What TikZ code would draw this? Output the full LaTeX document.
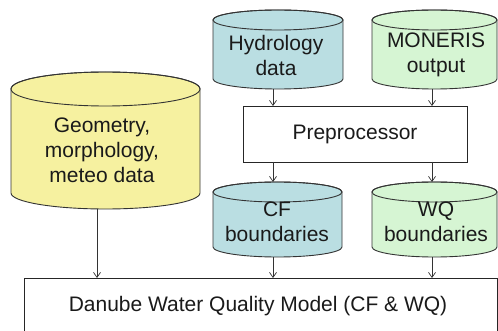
\documentclass[tikz,border=0pt]{standalone}
\usepackage{fontspec}
\setmainfont{Liberation Sans}
\usetikzlibrary{arrows.meta}
\definecolor{cylyellow}{HTML}{F6F1A0}
\definecolor{cylteal}{HTML}{BADEE2}
\definecolor{cylgreen}{HTML}{D6F5D3}
\definecolor{edge}{HTML}{333333}
\definecolor{txt}{HTML}{1A1A1A}
% #1 left x, #2 right x, #3 top-ellipse centre y, #4 bottom-ellipse centre y, #5 top ry, #6 bottom ry, #7 fill
\newcommand\mycyl[7]{%
  \pgfmathsetmacro\rx{(#2-#1)/2}%
  \pgfmathsetmacro\cx{(#2+#1)/2}%
  \filldraw[cylline,fill=#7] (#1,#3) -- (#1,#4)
    arc[start angle=180,end angle=0,x radius=\rx,y radius=#6] -- (#2,#3)
    arc[start angle=0,end angle=-180,x radius=\rx,y radius=#5] -- cycle;
  \draw[cylline] (\cx,#3) ellipse[x radius=\rx,y radius=#5];
}
\begin{document}
\begin{tikzpicture}[x=1pt,y=-1pt,
  cylline/.style={draw=edge,line width=0.9pt},
  boxline/.style={draw=black!85,line width=0.9pt,fill=white},
  lbl/.style={text=txt,align=center,font=\fontsize{21}{25}\selectfont,inner sep=0pt},
  flow/.style={draw=black!80,line width=0.7pt,-{Straight Barb[length=5pt,width=7pt]}}]
\useasboundingbox (0,0) rectangle (498,331);
% bottom box
\draw[boxline] (24,345) -- (24,278) -- (497,278) -- (497,345);
\node[lbl] (model) at (258,306) {Danube Water Quality Model (CF \& WQ)};
% preprocessor
\draw[boxline] (243,106) rectangle (467,162);
\node[lbl] (pre) at (355,134) {Preprocessor};
% cylinders
\mycyl{11}{200}{89}{193}{17}{16}{cylyellow}
\node[lbl] (geo) at (102,150) {Geometry,\\morphology,\\meteo data};
\mycyl{213}{343}{20}{79}{10}{10}{cylteal}
\node[lbl] (hyd) at (276,55) {Hydrology\\data};
\mycyl{372}{497}{20}{79}{10}{10}{cylgreen}
\node[lbl] (mon) at (436,55) {MONERIS\\output};
\mycyl{213}{342}{192}{247}{10}{10}{cylteal}
\node[lbl] (cf) at (277,222) {CF\\boundaries};
\mycyl{372}{497}{192}{247}{10}{10}{cylgreen}
\node[lbl] (wq) at (436,222) {WQ\\boundaries};
% connector end points
\coordinate (geoB) at (97,209);
\coordinate (modA) at (97,278);
\coordinate (hydB) at (273,89);
\coordinate (preA) at (273,106);
\coordinate (monB) at (432,89);
\coordinate (preB) at (432,106);
\coordinate (preC) at (273,162);
\coordinate (cfT) at (273,182);
\coordinate (preD) at (432,162);
\coordinate (wqT) at (432,182);
\coordinate (cfB) at (273,257);
\coordinate (modB) at (273,278);
\coordinate (wqB) at (432,257);
\coordinate (modC) at (432,278);
\draw[flow] (geoB) -- (modA);
\draw[flow] (hydB) -- (preA);
\draw[flow] (monB) -- (preB);
\draw[flow] (preC) -- (cfT);
\draw[flow] (preD) -- (wqT);
\draw[flow] (cfB) -- (modB);
\draw[flow] (wqB) -- (modC);
\end{tikzpicture}
\end{document}
